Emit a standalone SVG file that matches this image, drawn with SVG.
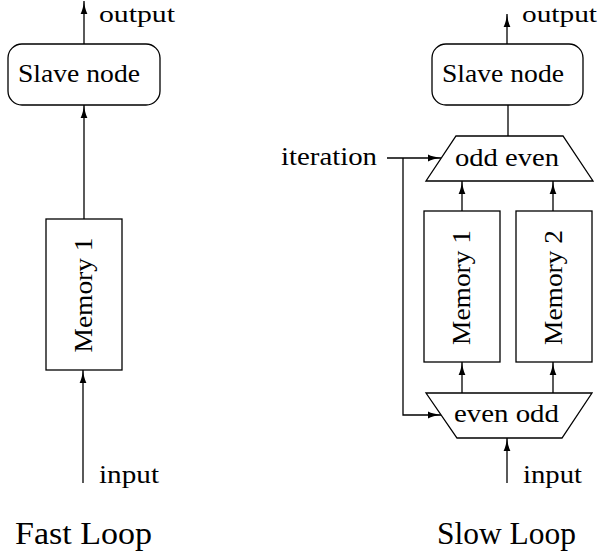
<svg xmlns="http://www.w3.org/2000/svg" width="599" height="559" viewBox="0 0 599 559">
<defs>
<style>
.s{fill:#fff;stroke:#000;stroke-width:1.3}
.c{fill:none;stroke:#000;stroke-width:1.3}
.t{font-family:'Liberation Serif','DejaVu Serif',serif;font-size:26px;fill:#000}
.big{font-size:31px}
.sm{font-size:24px}
</style>
<marker id="ah" markerUnits="userSpaceOnUse" markerWidth="14" markerHeight="8" viewBox="0 0 13 8" refX="13" refY="4" orient="auto">
<path d="M0,0.6 Q5,3.1 13,4 Q5,4.9 0,7.4 Z" fill="#000"/>
</marker>
</defs>
<rect width="599" height="559" fill="#fff"/>
<g id="connectors">
<path class="c" d="M84,44 L84,1" marker-end="url(#ah)"/>
<path class="c" d="M84,219 L84,105" marker-end="url(#ah)"/>
<path class="c" d="M83,483 L83,370" marker-end="url(#ah)"/>
<path class="c" d="M507,44 L507,14" marker-end="url(#ah)"/>
<path class="c" d="M508,105 L508,136"/>
<path class="c" d="M462,211 L462,181" marker-end="url(#ah)"/>
<path class="c" d="M553,211 L553,181" marker-end="url(#ah)"/>
<path class="c" d="M462,393 L462,362" marker-end="url(#ah)"/>
<path class="c" d="M553,393 L553,362" marker-end="url(#ah)"/>
<path class="c" d="M507,483 L507,438" marker-end="url(#ah)"/>
<path class="c" d="M387,158 L441,158" marker-end="url(#ah)"/>
<path class="c" d="M403,158 L403,415 L441,415" marker-end="url(#ah)"/>
</g>
<g id="fast-slave">
<rect class="s" x="8" y="44" width="152" height="61" rx="14"/>
<text class="t" x="18" y="82" textLength="122" lengthAdjust="spacingAndGlyphs">Slave node</text>
</g>
<g id="fast-output"><text class="t sm" x="99" y="22" textLength="76" lengthAdjust="spacingAndGlyphs">output</text></g>
<g id="fast-memory1">
<rect class="s" x="46" y="219" width="76" height="151"/>
<text class="t" transform="translate(92,295) rotate(-90)" text-anchor="middle" textLength="115" lengthAdjust="spacingAndGlyphs">Memory 1</text>
</g>
<g id="fast-input"><text class="t" x="99" y="483" textLength="60" lengthAdjust="spacingAndGlyphs">input</text></g>
<g id="fast-label"><text class="t big" x="15" y="544" textLength="137" lengthAdjust="spacingAndGlyphs">Fast Loop</text></g>

<g id="slow-slave">
<rect class="s" x="432" y="44" width="151" height="61" rx="14"/>
<text class="t" x="442" y="82" textLength="122" lengthAdjust="spacingAndGlyphs">Slave node</text>
</g>
<g id="slow-output"><text class="t sm" x="522" y="22" textLength="75" lengthAdjust="spacingAndGlyphs">output</text></g>
<g id="odd-even">
<polygon class="s" points="456,136 563,136 593,181 426,181"/>
<text class="t" x="455" y="166" textLength="104" lengthAdjust="spacingAndGlyphs">odd even</text>
</g>
<g id="iteration"><text class="t" x="281" y="165" textLength="96" lengthAdjust="spacingAndGlyphs">iteration</text></g>
<g id="slow-memory1">
<rect class="s" x="424" y="211" width="76" height="151"/>
<text class="t" transform="translate(470,287.5) rotate(-90)" text-anchor="middle" textLength="115" lengthAdjust="spacingAndGlyphs">Memory 1</text>
</g>
<g id="slow-memory2">
<rect class="s" x="516" y="211" width="76" height="151"/>
<text class="t" transform="translate(562,287.5) rotate(-90)" text-anchor="middle" textLength="115" lengthAdjust="spacingAndGlyphs">Memory 2</text>
</g>
<g id="even-odd">
<polygon class="s" points="426,393 592,393 562,438 457,438"/>
<text class="t" x="454" y="422" textLength="105" lengthAdjust="spacingAndGlyphs">even odd</text>
</g>
<g id="slow-input"><text class="t" x="523" y="483" textLength="59" lengthAdjust="spacingAndGlyphs">input</text></g>
<g id="slow-label"><text class="t big" x="437" y="544" textLength="139" lengthAdjust="spacingAndGlyphs">Slow Loop</text></g>
</svg>
